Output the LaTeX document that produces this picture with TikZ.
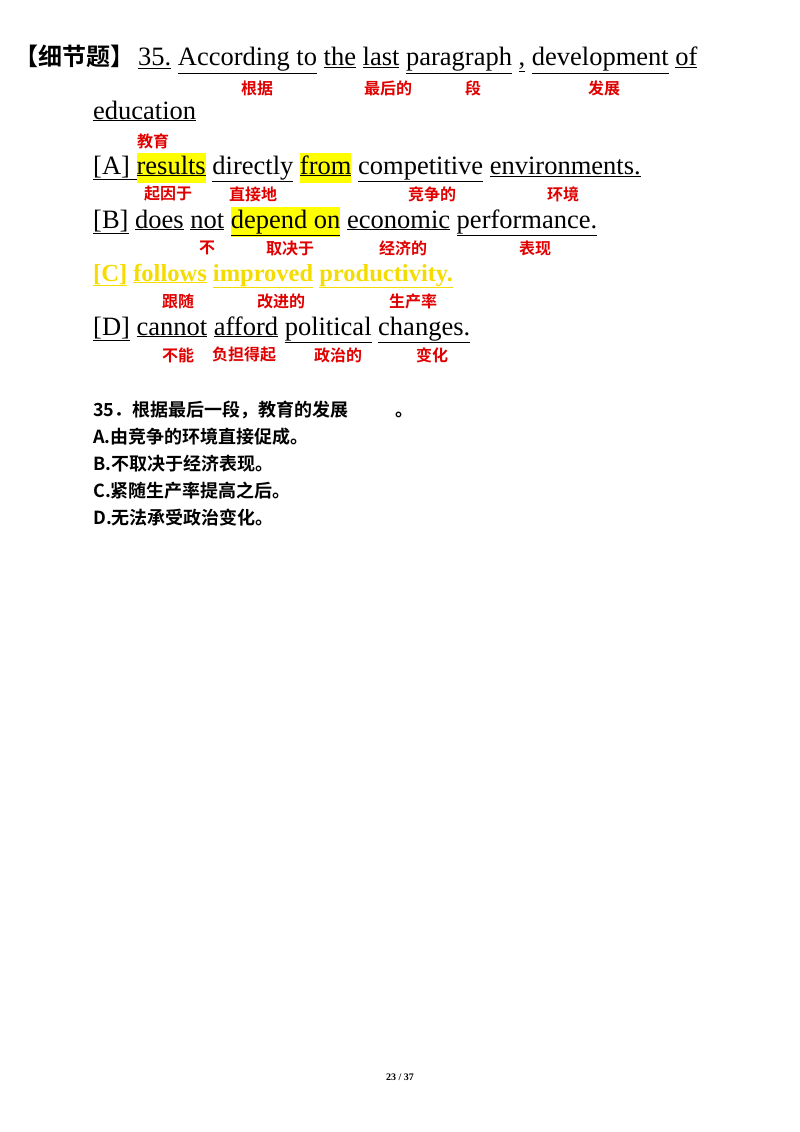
\documentclass[tikz,border=0pt]{standalone}
\usepackage{fontspec}
\setmainfont{Liberation Serif}
\newfontfamily\cjkb{Noto Sans CJK SC Bold}
\usepackage{xcolor}
\definecolor{lblred}{HTML}{E00000}
\definecolor{hl}{HTML}{FFFF00}
\definecolor{copt}{HTML}{F5DC00}
\newcommand{\uu}[1]{\underline{#1}}
\newcommand{\hlw}[1]{{\setlength{\fboxsep}{0pt}\colorbox{hl}{\strut\underline{#1}}}}
\begin{document}
\begin{tikzpicture}[x=1pt,y=-1pt,
  en/.style={anchor=base west,inner sep=0pt,font=\fontsize{26.5}{30}\selectfont},
  lb/.style={inner sep=0pt,text=lblred,font=\cjkb\fontsize{16}{18}\selectfont},
  zh/.style={anchor=west,inner sep=0pt,font=\cjkb\fontsize{18}{20}\selectfont}]
\useasboundingbox (0,0) rectangle (800,1132);
\node[anchor=base west,inner sep=0pt,font=\cjkb\fontsize{24}{26}\selectfont] (tag) at (14,66) {【细节题】};
\node[en] (l1) at (138,66) {\uu{35.} \uu{According to} \uu{the} \uu{last} \uu{paragraph} \uu{,} \uu{development} \uu{of}};
\node[en] (l2) at (93,119) {\uu{education}};
\node[en] (la) at (93,174) {\uu{[A]\ }\hlw{results} \uu{directly} \hlw{from} \uu{competitive} \uu{environments.}};
\node[en] (lb) at (93,228) {\uu{[B]} \uu{does} \uu{not} \hlw{depend on} \uu{economic} \uu{performance.}};
\node[en,text=copt,font=\bfseries\fontsize{24.5}{28}\selectfont] (lc) at (93,281) {\uu{[C]} \uu{follows} \uu{improved} \uu{productivity.}};
\node[en] (ld) at (93,335) {\uu{[D]} \uu{cannot} \uu{afford} \uu{political} \uu{changes.}};
\node[lb] (a1) at (257,88) {根据};
\node[lb] (a2) at (388,88) {最后的};
\node[lb] (a3) at (473,88) {段};
\node[lb] (a4) at (604,88) {发展};
\node[lb] (a5) at (153,141) {教育};
\node[lb] (b1) at (168,194) {起因于};
\node[lb] (b2) at (253,194) {直接地};
\node[lb] (b3) at (432,194) {竞争的};
\node[lb] (b4) at (563,194) {环境};
\node[lb] (c1) at (207,248) {不};
\node[lb] (c2) at (290,248) {取决于};
\node[lb] (c3) at (403,248) {经济的};
\node[lb] (c4) at (535,248) {表现};
\node[lb] (d1) at (178,301) {跟随};
\node[lb] (d2) at (281,301) {改进的};
\node[lb] (d3) at (413,301) {生产率};
\node[lb] (e1) at (178,355) {不能};
\node[lb] (e2) at (244,355) {负担得起};
\node[lb] (e3) at (338,355) {政治的};
\node[lb] (e4) at (432,355) {变化};
\node[zh] (q) at (93,410) {35．根据最后一段，教育的发展\hspace{2.6em}。};
\node[zh] (qa) at (93,437) {A.由竞争的环境直接促成。};
\node[zh] (qb) at (93,464) {B.不取决于经济表现。};
\node[zh] (qc) at (93,491) {C.紧随生产率提高之后。};
\node[zh] (qd) at (93,518) {D.无法承受政治变化。};
\node[inner sep=0pt,font=\bfseries\fontsize{10}{12}\selectfont] (pg) at (400,1077) {23 / 37};
\end{tikzpicture}
\end{document}
